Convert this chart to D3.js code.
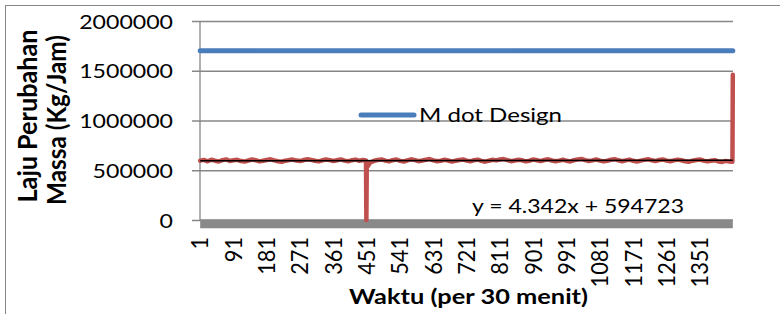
<!DOCTYPE html>
<html><head><meta charset="utf-8">
<script src="https://cdn.jsdelivr.net/npm/d3@7"></script>
<style>html,body{margin:0;padding:0;background:#fff;overflow:hidden}</style>
</head><body>
<script>
// ---- data ----
const yTicks = [0, 500000, 1000000, 1500000, 2000000];
const xTickLabels = [1, 91, 181, 271, 361, 451, 541, 631, 721, 811, 901, 991, 1081, 1171, 1261, 1351];
const nWaktu = 1440;
const designWaktu = [1, 1440];
const designVal = [1700000, 1700000];
const nolWaktu = [1, 1440];
const nolVal = [0, 0];
const trendSlope = 4.342, trendIntercept = 594723;
const waktu = [1,11,21,31,41,51,61,71,81,91,101,111,121,131,141,151,161,171,181,191,201,211,221,231,241,251,261,271,281,291,301,311,321,331,341,351,361,371,381,391,401,411,421,431,441,
449,450,451,455,
461,471,481,491,501,511,521,531,541,551,561,571,581,591,601,611,621,631,641,651,661,671,681,691,701,711,721,731,741,751,761,771,781,791,801,811,821,831,841,851,861,871,881,891,901,911,921,931,941,951,961,971,981,991,1001,1011,1021,1031,1041,1051,1061,1071,1081,1091,1101,1111,1121,1131,1141,1151,1161,1171,1181,1191,1201,1211,1221,1231,1241,1251,1261,1271,1281,1291,1301,1311,1321,1331,1341,1351,1361,1371,1381,1391,1401,1411,1421,1431,
1439,1440];
const laju = [597000,604000,590000,606000,596000,588000,602000,609000,593000,600000,
605000,592000,587000,598000,608000,601000,589000,596000,603000,610000,
599000,591000,586000,595000,602000,607000,597000,592000,603000,611000,
604000,595000,589000,600000,608000,602000,593000,601000,609000,597000,
590000,601000,607000,595000,603000,
599000,0,525000,548000,
580000,595000,603000,609000,597000,589000,601000,608000,594000,588000,
600000,610000,602000,591000,598000,606000,613000,600000,590000,596000,
605000,598000,587000,595000,603000,609000,597000,590000,601000,607000,
594000,586000,596000,605000,599000,608000,612000,602000,591000,598000,
606000,600000,589000,596000,608000,601000,592000,603000,610000,598000,
590000,597000,606000,595000,588000,601000,609000,614000,602000,593000,
599000,608000,597000,589000,596000,605000,611000,600000,591000,599000,
607000,595000,587000,597000,604000,611000,600000,592000,603000,609000,
597000,590000,599000,607000,600000,591000,585000,596000,603000,608000,
597000,589000,595000,601000,588000,584000,594000,587000,
586000,1460000];
const legendLabel = "M dot Design";
const trendLabel = "y = 4.342x + 594723";
const xTitle = "Waktu (per 30 menit)";
const yTitle = ["Laju Perubahan", "Massa (Kg/Jam)"];

// ---- drawing ----
const W = 780, H = 314;
const svg = d3.select("body").append("svg").attr("width", W).attr("height", H);
const FONT = "Lato, 'Open Sans', sans-serif";
const GRID = "#878787";

svg.append("rect").attr("x", 5.5).attr("y", 5.5).attr("width", 900).attr("height", 400)
  .attr("fill", "none").attr("stroke", "#868686").attr("stroke-width", 1);

const x = d3.scaleLinear().domain([0.5, nWaktu + 0.5]).range([200, 733]);
const y = d3.scaleLinear().domain([0, 2000000]).range([220, 21]);

// gridlines + y ticks
const yAxis = d3.axisLeft(y).tickValues(yTicks).tickSize(-(733 - 192)).tickFormat(d3.format("d"));
const gy = svg.append("g").attr("transform", "translate(192,0)").call(yAxis);
gy.select(".domain").remove();
gy.selectAll(".tick line").attr("stroke", GRID).attr("stroke-width", 1.3);
gy.selectAll(".tick text").remove();
gy.selectAll(".tick").each(function(d) {
  const s = String(d);
  d3.select(this).append("text")
    .attr("x", -19).attr("dy", "0.36em")
    .attr("text-anchor", "end")
    .attr("fill", "#000")
    .style("font-family", FONT).style("font-size", "20px")
    .attr("textLength", 13.4 * s.length).attr("lengthAdjust", "spacingAndGlyphs")
    .text(s);
});

// y axis line
svg.append("line").attr("x1", 200).attr("x2", 200).attr("y1", y(2000000)).attr("y2", y(0))
  .attr("stroke", GRID).attr("stroke-width", 1.3);

// zero series (thick gray)
const line = d3.line().x(d => x(d[0])).y(d => y(d[1]));
svg.append("path").datum(nolWaktu.map((w, i) => [w, nolVal[i]]))
  .attr("d", line).attr("transform", "translate(0,3.8)")
  .attr("fill", "none").attr("stroke", "#898989").attr("stroke-width", 9);

// design series
svg.append("path").datum(designWaktu.map((w, i) => [w, designVal[i]]))
  .attr("d", line).attr("fill", "none").attr("stroke", "#4A7EBB")
  .attr("stroke-width", 5).attr("stroke-linecap", "round");

// actual series
svg.append("path").datum(waktu.map((w, i) => [w, laju[i]]))
  .attr("d", line).attr("fill", "none").attr("stroke", "#C0504D")
  .attr("stroke-width", 4.5).attr("stroke-linejoin", "round").attr("stroke-linecap", "round");

// trend line
svg.append("path").datum([[1, trendIntercept + trendSlope * 1], [nWaktu, trendIntercept + trendSlope * nWaktu]])
  .attr("d", line).attr("fill", "none").attr("stroke", "#000").attr("stroke-width", 1.5);

// x tick labels
const gx = svg.append("g");
xTickLabels.forEach(v => {
  const s = String(v);
  gx.append("text")
    .attr("transform", `translate(${x(v)},237) rotate(-90)`)
    .attr("text-anchor", "end").attr("dy", "0.36em")
    .attr("fill", "#000")
    .style("font-family", FONT).style("font-size", "23px")
    .attr("textLength", 12.6 * s.length).attr("lengthAdjust", "spacingAndGlyphs")
    .text(s);
});

// legend
svg.append("line").attr("x1", 361).attr("x2", 414).attr("y1", 115).attr("y2", 115)
  .attr("stroke", "#4A7EBB").attr("stroke-width", 5).attr("stroke-linecap", "round");
svg.append("text").attr("x", 419).attr("y", 122)
  .style("font-family", FONT).style("font-size", "20px").attr("fill", "#000")
  .attr("textLength", 143).attr("lengthAdjust", "spacingAndGlyphs")
  .text(legendLabel);

// trend equation
svg.append("text").attr("x", 472).attr("y", 213)
  .style("font-family", FONT).style("font-size", "20px").attr("fill", "#000")
  .attr("textLength", 212).attr("lengthAdjust", "spacingAndGlyphs")
  .text(trendLabel);

// x title
svg.append("text").attr("x", 349).attr("y", 304)
  .style("font-family", FONT).style("font-size", "20px").style("font-weight", "bold").attr("fill", "#000")
  .attr("textLength", 239).attr("lengthAdjust", "spacingAndGlyphs")
  .text(xTitle);

// y title
const yt = [{t: yTitle[0], x: 37, c: 116, L: 173}, {t: yTitle[1], x: 66, c: 120, L: 170}];
yt.forEach(o => {
  svg.append("text")
    .attr("transform", `translate(${o.x},${o.c}) rotate(-90)`)
    .attr("text-anchor", "middle")
    .style("font-family", FONT).style("font-size", "26px").style("font-weight", "bold").attr("fill", "#000")
    .attr("textLength", o.L).attr("lengthAdjust", "spacingAndGlyphs")
    .text(o.t);
});
</script>
</body></html>
